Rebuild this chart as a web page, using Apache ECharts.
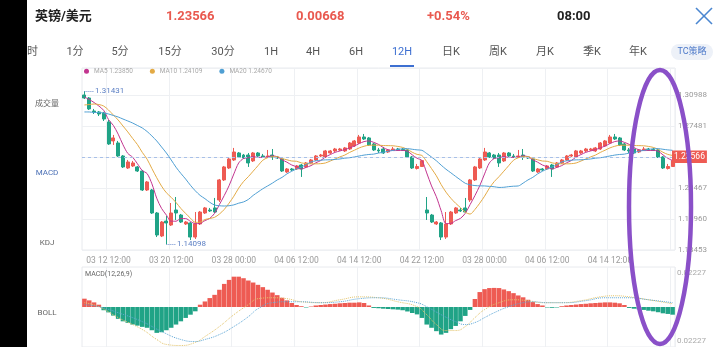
<!DOCTYPE html>
<html><head><meta charset="utf-8">
<script src="https://cdn.jsdelivr.net/npm/echarts@6/dist/echarts.min.js"></script>
<style>html,body{margin:0;padding:0;background:#fff;}#c{width:720px;height:347px;}</style>
</head><body><div id="c"></div>
<script>
// ---------- data ----------
const tickLabels = ['03 12 12:00','03 20 12:00','03 28 00:00','04 06 12:00','04 14 12:00','04 22 12:00','03 28 00:00','04 06 12:00','04 14 12:00'];
const tickStart = 5, tickStep = 13;

const opens = [
1.3099,1.3065,1.2918,1.2907,1.2895,1.2794,1.2579,1.2556,1.2409,1.2273,
1.2296,1.2285,1.2239,1.2024,1.2024,1.1764,1.1504,1.1673,1.1628,1.1798,
1.1741,1.1640,1.1651,1.1492,1.1640,1.1764,1.1798,1.1821,1.1911,1.2138,
1.2273,1.2364,1.2443,1.2420,1.2420,1.2353,1.2443,1.2409,1.2398,1.2420,
1.2398,1.2375,1.2228,1.2262,1.2262,1.2307,1.2285,1.2330,1.2364,1.2409,
1.2398,1.2443,1.2466,1.2477,1.2466,1.2488,1.2522,1.2556,1.2624,1.2613,
1.2545,1.2477,1.2488,1.2454,1.2477,1.2488,1.2483,1.2477,1.2398,1.2268,
1.22898,1.1798,1.1741,1.1640,1.1651,1.1492,1.1640,1.1764,1.1798,1.1821,
1.1911,1.2138,1.2273,1.2364,1.2443,1.2420,1.2420,1.2353,1.2443,1.2409,
1.2398,1.2420,1.2398,1.2375,1.2228,1.2262,1.2262,1.2307,1.2285,1.2330,
1.2364,1.2409,1.2398,1.2443,1.2466,1.2477,1.2466,1.2488,1.2522,1.2556,
1.2624,1.2613,1.2545,1.2477,1.2488,1.2454,1.2477,1.2488,1.2483,1.2477,
1.2398,1.2268,1.22898];
const closes = [
1.3065,1.2941,1.2907,1.2884,1.2827,1.2545,1.2613,1.2409,1.2285,1.2341,
1.2330,1.2239,1.2024,1.2115,1.1764,1.1515,1.1662,1.1651,1.1764,1.1764,
1.1662,1.1662,1.1492,1.1640,1.1775,1.1821,1.1787,1.1775,1.2138,1.2285,
1.2375,1.2454,1.2398,1.2386,1.2330,1.2443,1.2409,1.2398,1.2409,1.2398,
1.2386,1.2239,1.2262,1.2251,1.2296,1.2262,1.2330,1.2364,1.2409,1.2420,
1.2466,1.2466,1.2488,1.2488,1.2500,1.2556,1.2579,1.2624,1.2601,1.2534,
1.2477,1.2466,1.2443,1.2477,1.2488,1.2483,1.2471,1.2398,1.2273,1.22898,
1.23566,1.1764,1.1662,1.1662,1.1492,1.1640,1.1775,1.1821,1.1787,1.1775,
1.2138,1.2285,1.2375,1.2454,1.2398,1.2386,1.2330,1.2443,1.2409,1.2398,
1.2409,1.2398,1.2386,1.2239,1.2262,1.2251,1.2296,1.2262,1.2330,1.2364,
1.2409,1.2420,1.2466,1.2466,1.2488,1.2488,1.2500,1.2556,1.2579,1.2624,
1.2601,1.2534,1.2477,1.2466,1.2443,1.2477,1.2488,1.2483,1.2471,1.2398,
1.2273,1.22898,1.23566];
const lows = [
1.3053,1.2929,1.2884,1.2861,1.2805,1.2534,1.2534,1.2398,1.2273,1.2262,
1.2285,1.2228,1.2013,1.2013,1.1753,1.1492,1.1492,1.14098,1.1617,1.1685,
1.1651,1.1628,1.1458,1.1470,1.1628,1.1753,1.1775,1.1764,1.1889,1.2126,
1.2262,1.2353,1.2386,1.2375,1.2285,1.2341,1.2398,1.2386,1.2386,1.2364,
1.2375,1.2228,1.2217,1.2239,1.2251,1.2172,1.2273,1.2319,1.2353,1.2398,
1.2386,1.2432,1.2454,1.2466,1.2454,1.2477,1.2511,1.2545,1.2590,1.2522,
1.2466,1.2443,1.2432,1.2443,1.2466,1.2466,1.2466,1.2386,1.2262,1.2256,
1.2285,1.1685,1.1651,1.1628,1.1458,1.1470,1.1628,1.1753,1.1775,1.1764,
1.1889,1.2126,1.2262,1.2353,1.2386,1.2375,1.2285,1.2341,1.2398,1.2386,
1.2386,1.2364,1.2375,1.2228,1.2217,1.2239,1.2251,1.2172,1.2273,1.2319,
1.2353,1.2398,1.2386,1.2432,1.2454,1.2466,1.2454,1.2477,1.2511,1.2545,
1.2590,1.2522,1.2466,1.2443,1.2432,1.2443,1.2466,1.2466,1.2466,1.2386,
1.2262,1.2256,1.2285];
const highs = [
1.31431,1.3076,1.2941,1.2918,1.2907,1.2816,1.2647,1.2579,1.2420,1.2364,
1.2353,1.2296,1.2251,1.2126,1.2036,1.1775,1.1673,1.1730,1.1877,1.1945,
1.1753,1.1673,1.1662,1.1775,1.1787,1.1832,1.1821,1.1934,1.2149,1.2296,
1.2386,1.2500,1.2454,1.2432,1.2443,1.2454,1.2454,1.2432,1.2477,1.2488,
1.2409,1.2386,1.2273,1.2273,1.2307,1.2319,1.2341,1.2375,1.2420,1.2432,
1.2477,1.2477,1.2500,1.2500,1.2511,1.2567,1.2590,1.2647,1.2658,1.2624,
1.2556,1.2500,1.2511,1.2488,1.2511,1.2500,1.2500,1.2488,1.2409,1.2319,
1.2364,1.1945,1.1753,1.1673,1.1662,1.1775,1.1787,1.1832,1.1821,1.1934,
1.2149,1.2296,1.2386,1.2500,1.2454,1.2432,1.2443,1.2454,1.2454,1.2432,
1.2477,1.2488,1.2409,1.2386,1.2273,1.2273,1.2307,1.2319,1.2341,1.2375,
1.2420,1.2432,1.2477,1.2477,1.2500,1.2500,1.2511,1.2567,1.2590,1.2647,
1.2658,1.2624,1.2556,1.2500,1.2511,1.2488,1.2511,1.2500,1.2500,1.2488,
1.2409,1.2319,1.2364];

const ma5 = [
1.3076,1.3048,1.3014,1.2974,1.2925,1.2821,1.2755,1.2656,1.2536,1.2438,
1.2395,1.2321,1.2244,1.2210,1.2094,1.1931,1.1816,1.1741,1.1671,1.1671,
1.1701,1.1701,1.1669,1.1644,1.1646,1.1678,1.1703,1.1760,1.1859,1.1961,
1.2072,1.2206,1.2330,1.2380,1.2389,1.2402,1.2393,1.2393,1.2398,1.2411,
1.2400,1.2366,1.2339,1.2307,1.2287,1.2262,1.2280,1.2300,1.2332,1.2357,
1.2398,1.2425,1.2450,1.2466,1.2481,1.2500,1.2522,1.2549,1.2572,1.2579,
1.2563,1.2540,1.2504,1.2479,1.2470,1.2471,1.2472,1.2463,1.2422,1.2383,
1.2358,1.2217,1.2070,1.1948,1.1789,1.1644,1.1646,1.1678,1.1703,1.1760,
1.1859,1.1961,1.2072,1.2206,1.2330,1.2380,1.2389,1.2402,1.2393,1.2393,
1.2398,1.2411,1.2400,1.2366,1.2339,1.2307,1.2287,1.2262,1.2280,1.2300,
1.2332,1.2357,1.2398,1.2425,1.2450,1.2466,1.2481,1.2500,1.2522,1.2549,
1.2572,1.2579,1.2563,1.2540,1.2504,1.2479,1.2470,1.2471,1.2472,1.2463,
1.2422,1.2383,1.2358];
const ma10 = [
1.2986,1.2991,1.2997,1.2991,1.2974,1.2929,1.2873,1.2816,1.2748,1.2681,
1.2608,1.2538,1.2450,1.2373,1.2266,1.2163,1.2068,1.1993,1.1941,1.1883,
1.1816,1.1759,1.1705,1.1658,1.1659,1.1690,1.1702,1.1715,1.1752,1.1804,
1.1875,1.1954,1.2045,1.2119,1.2175,1.2237,1.2299,1.2361,1.2389,1.2400,
1.2401,1.2380,1.2366,1.2352,1.2349,1.2331,1.2323,1.2320,1.2320,1.2322,
1.2330,1.2352,1.2375,1.2399,1.2419,1.2449,1.2474,1.2500,1.2519,1.2530,
1.2531,1.2531,1.2527,1.2526,1.2524,1.2517,1.2506,1.2484,1.2451,1.2427,
1.2415,1.2345,1.2266,1.2185,1.2085,1.2000,1.1931,1.1874,1.1825,1.1773,
1.1752,1.1804,1.1875,1.1954,1.2045,1.2119,1.2175,1.2237,1.2299,1.2361,
1.2389,1.2400,1.2401,1.2380,1.2366,1.2352,1.2349,1.2331,1.2323,1.2320,
1.2320,1.2322,1.2330,1.2352,1.2375,1.2399,1.2419,1.2449,1.2474,1.2500,
1.2519,1.2530,1.2531,1.2531,1.2527,1.2526,1.2524,1.2517,1.2506,1.2484,
1.2451,1.2427,1.2415];
const ma20 = [
1.2907,1.2907,1.2901,1.2901,1.2895,1.2884,1.2867,1.2850,1.2827,1.2805,
1.2782,1.2754,1.2726,1.2686,1.2635,1.2579,1.2511,1.2443,1.2364,1.2282,
1.2212,1.2148,1.2077,1.2015,1.1963,1.1926,1.1885,1.1854,1.1846,1.1843,
1.1846,1.1856,1.1875,1.1889,1.1917,1.1963,1.2001,1.2038,1.2070,1.2102,
1.2138,1.2167,1.2206,1.2236,1.2262,1.2284,1.2311,1.2341,1.2354,1.2361,
1.2365,1.2366,1.2370,1.2375,1.2384,1.2389,1.2398,1.2409,1.2419,1.2426,
1.2430,1.2442,1.2451,1.2462,1.2472,1.2483,1.2490,1.2492,1.2485,1.2478,
1.2473,1.2437,1.2397,1.2355,1.2305,1.2259,1.2219,1.2178,1.2138,1.2100,
1.2083,1.2074,1.2071,1.2070,1.2065,1.2061,1.2053,1.2055,1.2062,1.2067,
1.2070,1.2102,1.2138,1.2167,1.2206,1.2236,1.2262,1.2284,1.2311,1.2341,
1.2354,1.2361,1.2365,1.2366,1.2370,1.2375,1.2384,1.2389,1.2398,1.2409,
1.2419,1.2426,1.2430,1.2442,1.2451,1.2462,1.2472,1.2483,1.2490,1.2492,
1.2485,1.2478,1.2473];

const macdHist = [
0.0054,0.0043,0.0030,0.0015,-0.0021,-0.0035,-0.0056,-0.0077,-0.0093,-0.0103,
-0.0114,-0.0121,-0.0129,-0.0135,-0.0151,-0.0168,-0.0164,-0.0151,-0.0135,-0.0114,
-0.0093,-0.0071,-0.0050,-0.0028,0.0015,0.0036,0.0058,0.0079,0.0112,0.0150,
0.0176,0.0197,0.0197,0.0187,0.0172,0.0159,0.0144,0.0129,0.0112,0.0094,
0.0077,0.0060,0.0043,0.0026,0.0013,0.0005,-0.0003,0.0003,0.0010,0.0013,
0.0016,0.0019,0.0021,0.0024,0.0026,0.0028,0.0028,0.0030,0.0026,0.0010,
-0.0006,-0.0008,-0.0011,-0.0013,-0.0015,-0.0017,-0.0021,-0.0029,-0.0039,-0.0048,
-0.0071,-0.0114,-0.0135,-0.0157,-0.0179,-0.0168,-0.0144,-0.0123,-0.0093,-0.0058,
-0.0019,0.0052,0.0097,0.0116,0.0123,0.0124,0.0123,0.0114,0.0103,0.0090,
0.0075,0.0063,0.0047,0.0032,0.0019,0.0010,-0.0003,-0.0005,-0.0003,0.0005,
0.0010,0.0013,0.0016,0.0019,0.0021,0.0024,0.0026,0.0028,0.0030,0.0030,
0.0028,0.0024,0.0013,-0.0006,-0.0011,-0.0015,-0.0019,-0.0024,-0.0028,-0.0034,
-0.0041,-0.0045,-0.0050];

const difIdx  = [0,3,7,12,15,17,20,23,25,28,31,34,36,39,42,45,49,53,57,61,65,69,71,73,75,77,79,81,83,86,89,92,95,99,103,107,110,113,117,122];
const difVals = [0.0028,0.0002,-0.0069,-0.0146,-0.0211,-0.0243,-0.0250,-0.0230,-0.0192,-0.0127,-0.0050,0.0015,0.0054,0.0060,0.0054,0.0034,0.0028,0.0047,0.0066,0.0060,0.0034,0.0002,-0.0050,-0.0114,-0.0153,-0.0153,-0.0127,-0.0069,-0.0017,0.0028,0.0047,0.0041,0.0028,0.0028,0.0041,0.0066,0.0073,0.0066,0.0047,0.0021];
const deaIdx  = [0,3,7,12,16,20,23,25,28,31,34,36,39,42,45,49,53,57,61,65,69,71,74,77,79,81,83,85,88,91,93,96,100,104,108,113,117,122];
const deaVals = [0.0015,0.0002,-0.0037,-0.0095,-0.0159,-0.0211,-0.0224,-0.0211,-0.0179,-0.0127,-0.0063,-0.0011,0.0028,0.0034,0.0034,0.0028,0.0034,0.0054,0.0060,0.0047,0.0028,0.0002,-0.0050,-0.0095,-0.0114,-0.0101,-0.0069,-0.0037,0.0002,0.0028,0.0034,0.0028,0.0028,0.0041,0.0060,0.0060,0.0047,0.0028];

const priceMin = 1.13453, priceStep = 0.03507;
const macdTick = 0.02227;
const lastPrice = 1.23566;
const highMark = { idx: 0, value: 1.31431 };
const lowMark = { idx: 17, value: 1.14098 };
const legendNames = ['MA5','MA10','MA20'];
const legendValues = ['1.23850','1.24109','1.24670'];
const pairName = '英镑/美元';
const quoteTexts = ['1.23566','0.00668','+0.54%'];
const timeText = '08:00';
const tabs = ['分时','1分','5分','15分','30分','1H','4H','6H','12H','日K','周K','月K','季K','年K'];
const activeTab = '12H';
const sideMenu = ['成交量','MACD','KDJ','BOLL'];
const activeSide = 'MACD';
const macdTitle = 'MACD(12,26,9)';

// ---------- layout / style ----------
const FONT = 'Roboto, "Noto Sans CJK SC", sans-serif';
const RED = '#ee5b53', GREEN = '#20a386';
const C5 = '#c2348f', C10 = '#e3aa45', C20 = '#4f9fd3';
const GRIDC = '#eef0f3';
const tabX = [27,75,120,170,223,271,313,356,402,451,498,545,592,638];
const sideY = [104,173,243,313];
const quoteX = [166,296,427];

const categories = opens.map((_, i) => String(i));
const isTick = i => i >= tickStart && (i - tickStart) % tickStep === 0;
const candleData = opens.map((o, i) => [o, closes[i], lows[i], highs[i]]);
const priceMax = 1.34043;

const graphic = [];
graphic.push({type:'text', z:50, style:{x:35, y:17, text:pairName, font:'bold 13px ' + FONT, fill:'#222', verticalAlign:'middle'}});
quoteTexts.forEach((t, k) => graphic.push({type:'text', z:50, style:{x:quoteX[k], y:17, text:t, font:'bold 13px ' + FONT, fill:'#e9594f', verticalAlign:'middle'}}));
graphic.push({type:'text', z:50, style:{x:557, y:17, text:timeText, font:'bold 13px ' + FONT, fill:'#222', verticalAlign:'middle'}});
graphic.push({type:'line', z:50, shape:{x1:696, y1:8, x2:712, y2:24}, style:{stroke:'#4a86d0', lineWidth:1.6}});
graphic.push({type:'line', z:50, shape:{x1:712, y1:8, x2:696, y2:24}, style:{stroke:'#4a86d0', lineWidth:1.6}});
tabs.forEach((t, k) => graphic.push({type:'text', z:50, style:{x:tabX[k], y:52, text:t, font:'11px ' + FONT, fill: t === activeTab ? '#3d6fd1' : '#555', align:'center', verticalAlign:'middle'}}));
graphic.push({type:'rect', z:50, shape:{x:390, y:65, width:24, height:2}, style:{fill:'#3d6fd1'}});
graphic.push({type:'rect', z:50, shape:{x:671, y:44, width:42, height:16, r:8}, style:{fill:'#edf1f8'}});
graphic.push({type:'text', z:51, style:{x:692, y:52, text:'TC策略', font:'9px ' + FONT, fill:'#4b78c9', align:'center', verticalAlign:'middle'}});
sideMenu.forEach((t, k) => graphic.push({type:'text', z:50, style:{x:47, y:sideY[k], text:t, font:'8px ' + FONT, fill: t === activeSide ? '#4a6fb5' : '#666', align:'center', verticalAlign:'middle'}}));
graphic.push({type:'text', z:50, style:{x:85, y:274, text:macdTitle, font:'7px ' + FONT, fill:'#666', verticalAlign:'middle'}});
graphic.push({type:'rect', z:150, shape:{x:0, y:0, width:27, height:347}, style:{fill:'#000'}});
graphic.push({type:'ellipse', z:200, shape:{cx:660, cy:207, rx:31, ry:137}, style:{fill:'none', stroke:'#8a50c8', lineWidth:4.5}});

const xCommon = {
  type:'category', data:categories, boundaryGap:true,
  axisLine:{show:false}, axisTick:{show:false},
  splitLine:{show:true, interval:(i)=>isTick(i), lineStyle:{color:GRIDC}}
};

const option = {
  animation:false,
  textStyle:{fontFamily:FONT},
  legend:{data:legendNames, left:84, top:68, padding:0, itemWidth:5, itemHeight:5, itemGap:17, icon:'circle', selectedMode:false,
    textStyle:{fontSize:6.5, color:'#a9a9a9'},
    formatter:n => n + ' ' + legendValues[legendNames.indexOf(n)]},
  grid:[
    {left:82, right:45, top:68, height:182, show:true, borderColor:'#e8eaee', borderWidth:1},
    {left:82, right:45, top:267, height:80, show:true, borderColor:'#e8eaee', borderWidth:1}
  ],
  xAxis:[
    Object.assign({}, xCommon, {gridIndex:0, axisLabel:{interval:(i)=>isTick(i), formatter:(v,i)=>tickLabels[(i - tickStart) / tickStep], fontSize:8.5, color:'#9a9a9a', margin:7}}),
    Object.assign({}, xCommon, {gridIndex:1, axisLabel:{show:false}})
  ],
  yAxis:[
    {type:'value', gridIndex:0, position:'right', min:priceMin, max:priceMax, interval:priceStep,
     axisLine:{show:false}, axisTick:{show:false},
     axisLabel:{fontSize:8, color:'#9a9a9a', margin:3, showMaxLabel:false, formatter:v=>v.toFixed(5)},
     splitLine:{lineStyle:{color:GRIDC}}},
    {type:'value', gridIndex:1, position:'right', min:-(macdTick + macdTick/6), max:macdTick + macdTick/6, interval:macdTick/6,
     axisLine:{show:false}, axisTick:{show:false}, splitLine:{show:false},
     axisLabel:{fontSize:8, color:'#aaa', margin:2, formatter:v => Math.abs(Math.abs(v) - macdTick) < 1e-6 ? macdTick.toFixed(5) : ''}}
  ],
  series:[
    {type:'candlestick', xAxisIndex:0, yAxisIndex:0, data:candleData, barWidth:'72%',
     itemStyle:{color:RED, color0:GREEN, borderColor:RED, borderColor0:GREEN, borderWidth:1},
     markLine:{silent:true, symbol:['none','none'], animation:false,
       data:[
         {yAxis:lastPrice, lineStyle:{type:[3,3], color:'#a8c0e8', width:1},
          label:{position:'end', formatter:lastPrice.toFixed(5), backgroundColor:RED, color:'#fff', fontSize:8.5, padding:[2,2,2,2], distance:-3}},
         [{coord:[highMark.idx, highMark.value], lineStyle:{type:'dotted', color:'#6f8fd0', width:1},
           label:{position:'end', formatter:highMark.value.toFixed(5), color:'#5b7fc4', fontSize:8, distance:1}},
          {coord:[highMark.idx + 2, highMark.value]}],
         [{coord:[lowMark.idx, lowMark.value], lineStyle:{type:'dotted', color:'#6f8fd0', width:1},
           label:{position:'end', formatter:lowMark.value.toFixed(5), color:'#5b7fc4', fontSize:8, distance:1}},
          {coord:[lowMark.idx + 2, lowMark.value]}]
       ]}},
    {type:'line', name:'MA5', xAxisIndex:0, yAxisIndex:0, data:ma5, showSymbol:false, smooth:0.3, lineStyle:{width:1, color:C5}, itemStyle:{color:C5}, z:3},
    {type:'line', name:'MA10', xAxisIndex:0, yAxisIndex:0, data:ma10, showSymbol:false, smooth:0.3, lineStyle:{width:1, color:C10}, itemStyle:{color:C10}, z:3},
    {type:'line', name:'MA20', xAxisIndex:0, yAxisIndex:0, data:ma20, showSymbol:false, smooth:0.3, lineStyle:{width:1, color:C20}, itemStyle:{color:C20}, z:3},
    {type:'bar', xAxisIndex:1, yAxisIndex:1, data:macdHist, barCategoryGap:'6%',
     itemStyle:{color:p => p.value >= 0 ? RED : GREEN}},
    {type:'line', xAxisIndex:1, yAxisIndex:1, data:difIdx.map((x,k)=>[x, difVals[k]]), showSymbol:false, smooth:true,
     lineStyle:{width:1, type:'dotted', color:'#e2c36a'}, z:3},
    {type:'line', xAxisIndex:1, yAxisIndex:1, data:deaIdx.map((x,k)=>[x, deaVals[k]]), showSymbol:false, smooth:true,
     lineStyle:{width:1, type:'dotted', color:'#5fa7d6'}, z:3}
  ],
  graphic: graphic
};
const chart = echarts.init(document.getElementById('c'), null, {renderer:'canvas'});
chart.setOption(option);
</script>
</body></html>
